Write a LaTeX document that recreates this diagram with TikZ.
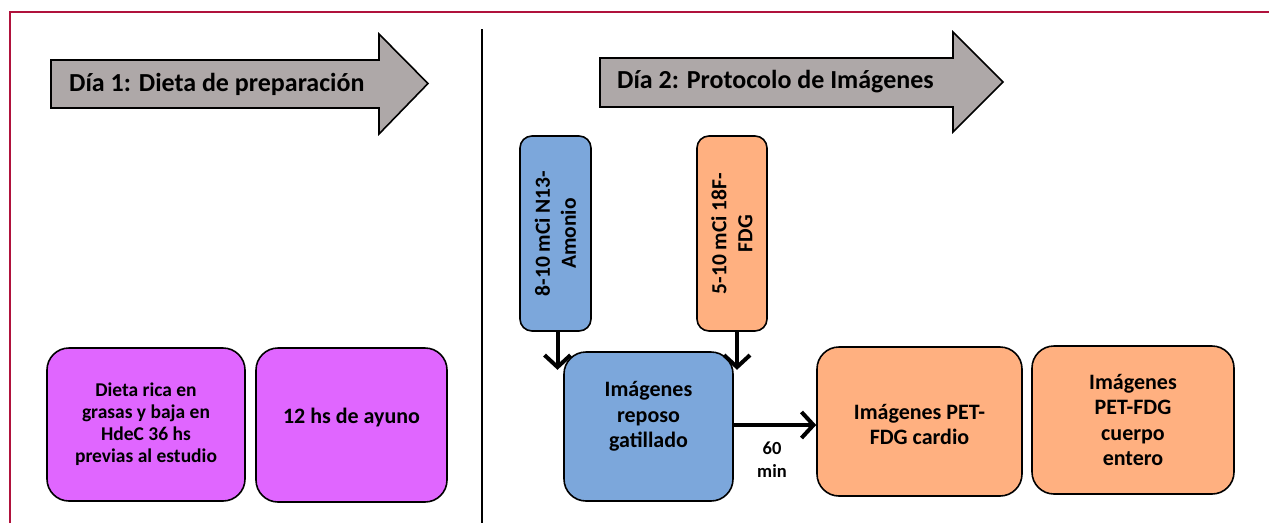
\documentclass[tikz,border=0pt]{standalone}
\usepackage{fontspec}
\setmainfont{Carlito}
\usetikzlibrary{arrows.meta}
\definecolor{framered}{RGB}{176,18,60}
\definecolor{arrowgray}{RGB}{174,168,168}
\definecolor{magbox}{RGB}{224,102,255}
\definecolor{bluebox}{RGB}{124,167,219}
\definecolor{orangebox}{RGB}{255,176,128}
\begin{document}
\begin{tikzpicture}[x=1pt,y=-1pt,
  box/.style={draw=black, line width=1.6pt, rounded corners=22pt, inner sep=0pt},
  tallbox/.style={draw=black, line width=1.6pt, rounded corners=12pt, inner sep=0pt},
  txt/.style={font=\bfseries\fontsize{22}{25.5}\selectfont, align=center, text=black, inner sep=0pt},
  smalltxt/.style={font=\bfseries\fontsize{19.5}{22}\selectfont, align=center, text=black, inner sep=0pt},
  vtxt/.style={font=\bfseries\fontsize{21.5}{26}\selectfont, align=center, text=black, inner sep=0pt, rotate=90},
  title/.style={font=\bfseries\fontsize{26}{30}\selectfont, text=black, anchor=west, inner sep=0pt},
  bigarrow/.style={draw=black, line width=1.6pt, fill=arrowgray},
  flow/.style={line width=4pt, -{Straight Barb[length=12pt,width=26pt]}}]
\useasboundingbox (0,0) rectangle (1269,523);
% frame
\draw[framered, line width=2.2pt] (10,523) -- (10,12) -- (1269,12);
% divider
\draw[black, line width=2.2pt] (482,29) -- (482,523);
% big arrows
\draw[bigarrow] (51,60) -- (379,60) -- (379,34) -- (428,83.5) -- (379,134) -- (379,108) -- (51,108) -- cycle;
\node[title] (t1) at (69,84) {Día 1: Dieta de preparación};
\draw[bigarrow] (600,58) -- (953,58) -- (953,32) -- (1003,82) -- (953,132) -- (953,107) -- (600,107) -- cycle;
\node[title] (t2) at (617,82) {Día 2: Protocolo de Imágenes};
% day 1 boxes
\node[box, fill=magbox, minimum width=198pt, minimum height=153pt] (diet) at (146,424.5) {};
\node[smalltxt] (diettxt) at (146,424) {Dieta rica en\\grasas y baja en\\HdeC 36 hs\\previas al estudio};
\node[box, fill=magbox, minimum width=191pt, minimum height=154pt] (fast) at (351.5,425) {};
\node[txt] (fasttxt) at (351.5,418) {12 hs de ayuno};
% day 2 tall boxes
\node[tallbox, fill=bluebox, minimum width=71pt, minimum height=195pt] (nh3) at (555.5,233.5) {};
\node[vtxt] (nh3txt) at (555.5,233.5) {8-10 mCi N13-\\Amonio};
\node[tallbox, fill=orangebox, minimum width=70pt, minimum height=195pt] (fdg) at (732,233.5) {};
\node[vtxt] (fdgtxt) at (732,233.5) {5-10 mCi 18F-\\FDG};
% day 2 boxes
\node[box, fill=bluebox, minimum width=169pt, minimum height=149pt] (rest) at (648.5,426.5) {};
\node[txt] (resttxt) at (648.5,416.5) {Imágenes\\reposo\\gatillado};
\node[box, fill=orangebox, minimum width=205pt, minimum height=149pt] (cardio) at (919.5,421.5) {};
\node[txt] (cardiotxt) at (919.5,424.5) {Imágenes PET-\\FDG cardio};
\node[box, fill=orangebox, minimum width=202pt, minimum height=148pt] (body) at (1133,420) {};
\node[txt] (bodytxt) at (1133,420) {Imágenes\\PET-FDG\\cuerpo\\entero};
% connectors
\draw[flow] ([xshift=2pt]nh3.south) -- ++(0,38);
\draw[flow] ([xshift=5pt]fdg.south) -- ++(0,38);
\draw[flow] ([yshift=1.5pt]rest.east) -- ([yshift=1.5pt]rest.east -| cardio.west);
\node[font=\bfseries\fontsize{18.5}{23}\selectfont, align=center, inner sep=0pt] (min) at (772,459.5) {60\\min};
\end{tikzpicture}
\end{document}
